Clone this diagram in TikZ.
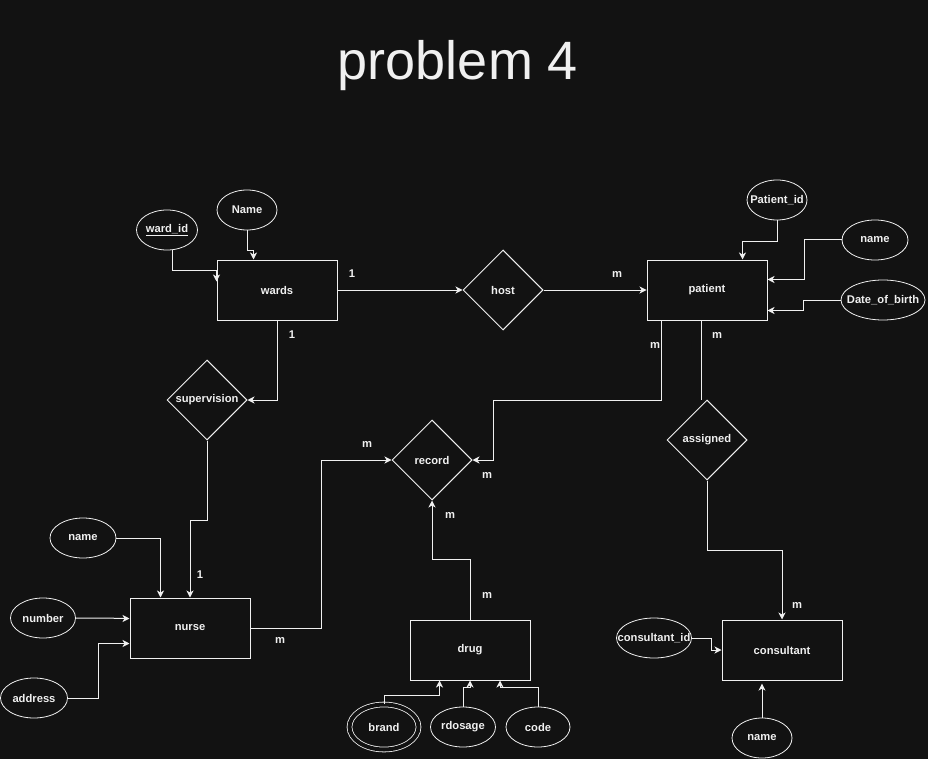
\documentclass[tikz,border=0pt]{standalone}
\usepackage{fontspec}
\setmainfont{Liberation Sans}
\usetikzlibrary{shapes.geometric,arrows.meta,calc}
\definecolor{bgc}{HTML}{121212}
\definecolor{fg}{HTML}{F0F0F0}
\newcommand{\zw}[1]{\makebox[0pt]{#1}}
\begin{document}
\begin{tikzpicture}[x=1pt,y=-1pt,
  every node/.style={text=fg,font=\bfseries\fontsize{11.2}{13}\selectfont},
  ent/.style={draw=fg,line width=1pt,minimum width=120pt,minimum height=60pt,inner sep=0pt},
  rel/.style={draw=fg,line width=1pt,diamond,aspect=1,minimum width=80pt,minimum height=80pt,inner sep=0pt},
  attr/.style={draw=fg,line width=0.8pt,ellipse,minimum height=40pt,inner sep=0pt},
  conn/.style={draw=fg,line width=1pt},
  arr/.style={conn,-{Stealth[length=7pt,width=7pt,inset=2pt]}},
  lab/.style={inner sep=0pt}
]
\fill[bgc] (0,0) rectangle (928,759);
\useasboundingbox (0,0) rectangle (928,759);

\node[anchor=base,font=\fontsize{54}{60}\selectfont] (title) at (458,80) {problem 4};

% entities
\node[ent] (wards) at (277,290) {wards};
\node[ent] (patient) at (707,290) {patient};
\node[ent] (nurse) at (190,628) {nurse};
\node[ent] (drug) at (470,650) {drug};
\node[ent] (consultant) at (782,650) {consultant};

% relationships
\node[rel] (host) at (503,290) {host};
\node[rel] (sup) at (207,400) {\zw{supervision}};
\node[rel] (record) at (432,460) {record};
\node[rel] (assigned) at (707,440) {assigned};

% attributes
\node[attr,minimum width=61pt] (wardid) at (167,230) {\zw{\underline{ward\_id}}};
\node[attr,minimum width=60pt] (wname) at (247,210) {\zw{Name}};
\node[attr,minimum width=60pt] (pid) at (777,200) {\zw{Patient\_id}};
\node[attr,minimum width=66pt] (pname) at (875,240) {\zw{name}};
\node[attr,minimum width=84pt] (dob) at (883,300) {\zw{Date\_of\_birth}};
\node[attr,minimum width=66pt] (nname) at (83,538) {\zw{name}};
\node[attr,minimum width=65pt] (number) at (43,618) {\zw{number}};
\node[attr,minimum width=67pt] (address) at (34,698) {\zw{address}};
\node[attr,minimum width=69pt,minimum height=45pt,line width=0.8pt,double=bgc,double distance=4pt] (brand) at (384,727) {\zw{brand}};
\node[attr,minimum width=65pt] (rdosage) at (463,727) {\zw{rdosage}};
\node[attr,minimum width=64pt] (code) at (538,727) {\zw{code}};
\node[attr,minimum width=75pt] (cid) at (654,638) {\zw{consultant\_id}};
\node[attr,minimum width=60pt] (cname) at (762,738) {\zw{name}};

% connectors
\draw[arr] ([xshift=5pt]wardid.south) -- ++(0,20) -| ([yshift=-22pt]wards.north west);
\draw[arr] (wname.south) -- ++(0,20) -| ([xshift=37pt]wards.north west);
\draw[arr] (wards.east) -- (host.west);
\draw[arr] (host.east) -- (patient.west);
\draw[arr] (pid.south) -- ++(0,21) -| ([xshift=96pt]patient.north west);
\draw[arr] (pname.west) -- ++(-37,0) |- ([yshift=-20pt]patient.north east);
\draw[arr] (dob.west) -- ++(-37,0) |- ([yshift=10pt]patient.south east);
\draw[arr] (wards.south) |- (sup.east);
\draw[arr] (sup.south) -- ++(0,80) -| (nurse.north);
\draw[arr] (nname.east) -| ([xshift=31pt]nurse.north west);
\draw[arr] (number.east) -- ++(24,0) to[out=0,in=180] ([yshift=-21pt]nurse.north west);
\draw[arr] (address.east) -- ++(31,0) |- ([yshift=15pt]nurse.south west);
\draw[arr] (nurse.east) -- ++(71,0) |- (record.west);
\draw[arr] ([xshift=15pt]patient.south west) -- ++(0,80) -| ([xshift=21pt]record.east) -- (record.east);
\draw[arr] (drug.north) -- ++(0,-60) -| (record.south);
\draw[arr] (brand.north) -- ++(0,-9) -| ([xshift=30pt]drug.south west);
\draw[arr] (rdosage.north) -- ++(0,-19) -| (drug.south);
\draw[arr] (code.north) -- ++(0,-19) -| ([xshift=30pt]drug.south);
\draw[conn] ([xshift=55pt]patient.south west) -- ([xshift=55pt]patient.south west |- assigned.north);
\draw[arr] (assigned.south) -- ++(0,70) -| (consultant.north);
\draw[arr] (cid.east) -- ++(20,0) |- (consultant.west);
\draw[arr] (cname.north) -- ++(0,-34);

% cardinality labels
\node[lab] (l1) at (352,274) {1};
\node[lab] (l2) at (292,335) {1};
\node[lab] (l3) at (617,274) {m};
\node[lab] (l4) at (655,345) {m};
\node[lab] (l5) at (717,335) {m};
\node[lab] (l6) at (367,444) {m};
\node[lab] (l7) at (487,475) {m};
\node[lab] (l8) at (450,515) {m};
\node[lab] (l9) at (487,595) {m};
\node[lab] (l10) at (200,575) {1};
\node[lab] (l11) at (280,640) {m};
\node[lab] (l12) at (797,605) {m};
\end{tikzpicture}
\end{document}
